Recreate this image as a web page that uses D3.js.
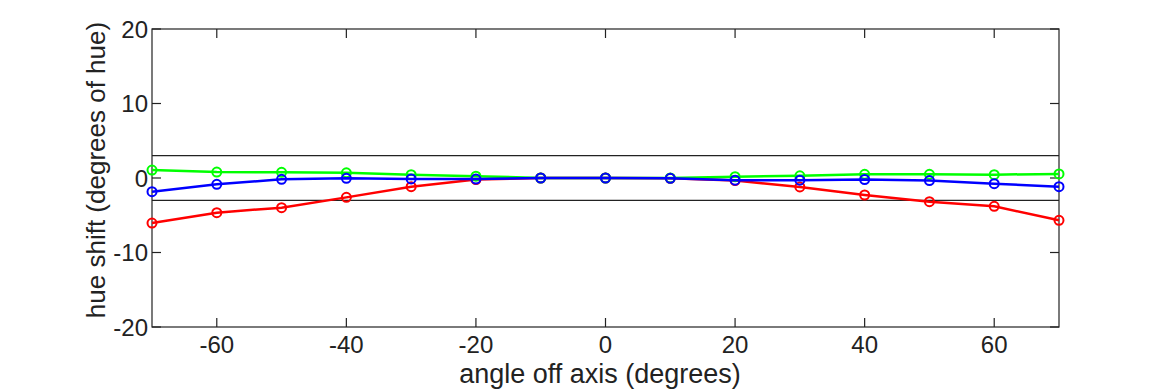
<script src="https://d3js.org/d3.v7.min.js"></script>
<style>
  body { margin: 0; background: #fff; }
  text { font-family: "Liberation Sans", Arial, sans-serif; fill: #222; }
</style>
<body>
<script>
// angles off axis and hue shift per channel
var angles = [-70, -60, -50, -40, -30, -20, -10, 0, 10, 20, 30, 40, 50, 60, 70];
var redShift   = [-6.05, -4.65, -3.98, -2.6, -1.16, -0.2, 0, 0, -0.05, -0.35, -1.2, -2.28, -3.18, -3.8, -5.68];
var greenShift = [1.07, 0.8, 0.76, 0.7, 0.45, 0.25, 0, 0, 0, 0.18, 0.3, 0.5, 0.5, 0.45, 0.55];
var blueShift  = [-1.83, -0.85, -0.18, -0.05, -0.13, -0.15, 0, 0, -0.05, -0.3, -0.3, -0.2, -0.35, -0.76, -1.16];
var limits = [3, -3];
var xTicks = [-60, -40, -20, 0, 20, 40, 60];
var yTicks = [-20, -10, 0, 10, 20];

const W = 1170, H = 390;
const pLeft = 152, pRight = 1059, pTop = 29, pBottom = 327;

const svg = d3.select("body").append("svg")
  .attr("width", W).attr("height", H);

var x = d3.scaleLinear().domain([-70, 70]).range([pLeft, pRight]);
var y = d3.scaleLinear().domain([-20, 20]).range([pBottom, pTop]);

// box
svg.append("rect")
  .attr("x", pLeft).attr("y", pTop)
  .attr("width", pRight - pLeft).attr("height", pBottom - pTop)
  .attr("fill", "none").attr("stroke", "#222").attr("stroke-width", 1.2);

// ticks (inward, all four sides)
var tl = 9;
var tickG = svg.append("g").attr("stroke", "#222").attr("stroke-width", 1.2);
xTicks.forEach(function(t) {
  tickG.append("line").attr("x1", x(t)).attr("x2", x(t)).attr("y1", pBottom).attr("y2", pBottom - tl);
  tickG.append("line").attr("x1", x(t)).attr("x2", x(t)).attr("y1", pTop).attr("y2", pTop + tl);
});
yTicks.forEach(function(t) {
  tickG.append("line").attr("x1", pLeft).attr("x2", pLeft + tl).attr("y1", y(t)).attr("y2", y(t));
  tickG.append("line").attr("x1", pRight).attr("x2", pRight - tl).attr("y1", y(t)).attr("y2", y(t));
});

svg.selectAll(".xl").data(xTicks).enter().append("text")
  .attr("x", function(d) { return x(d); })
  .attr("y", 353)
  .attr("text-anchor", "middle")
  .attr("font-size", 24)
  .text(function(d) { return d; });

svg.selectAll(".yl").data(yTicks).enter().append("text")
  .attr("x", pLeft - 4)
  .attr("y", function(d) { return y(d) + 8.5; })
  .attr("text-anchor", "end")
  .attr("font-size", 24)
  .text(function(d) { return d; });

svg.append("text")
  .attr("x", 600).attr("y", 383)
  .attr("text-anchor", "middle").attr("font-size", 27)
  .text("angle off axis (degrees)");

svg.append("text")
  .attr("transform", "translate(105,170) rotate(-90)")
  .attr("text-anchor", "middle").attr("font-size", 26)
  .text("hue shift (degrees of hue)");

// limit lines
limits.forEach(function(v) {
  svg.append("line")
    .attr("x1", pLeft).attr("x2", pRight)
    .attr("y1", y(v)).attr("y2", y(v))
    .attr("stroke", "#222").attr("stroke-width", 1.2);
});

var series = [
  { name: "red", values: redShift, color: "#ff0000" },
  { name: "green", values: greenShift, color: "#00ff00" },
  { name: "blue", values: blueShift, color: "#0000ff" }
];

var line = d3.line()
  .x(function(d) { return x(d[0]); })
  .y(function(d) { return y(d[1]); });

series.forEach(function(s) {
  var pts = angles.map(function(a, i) { return [a, s.values[i]]; });
  svg.append("path")
    .attr("d", line(pts))
    .attr("fill", "none")
    .attr("stroke", s.color)
    .attr("stroke-width", 2.5);
  svg.selectAll(".pt-" + s.name).data(pts).enter().append("circle")
    .attr("cx", function(d) { return x(d[0]); })
    .attr("cy", function(d) { return y(d[1]); })
    .attr("r", 4.5)
    .attr("fill", "none")
    .attr("stroke", s.color)
    .attr("stroke-width", 2);
});
</script>
</body>
